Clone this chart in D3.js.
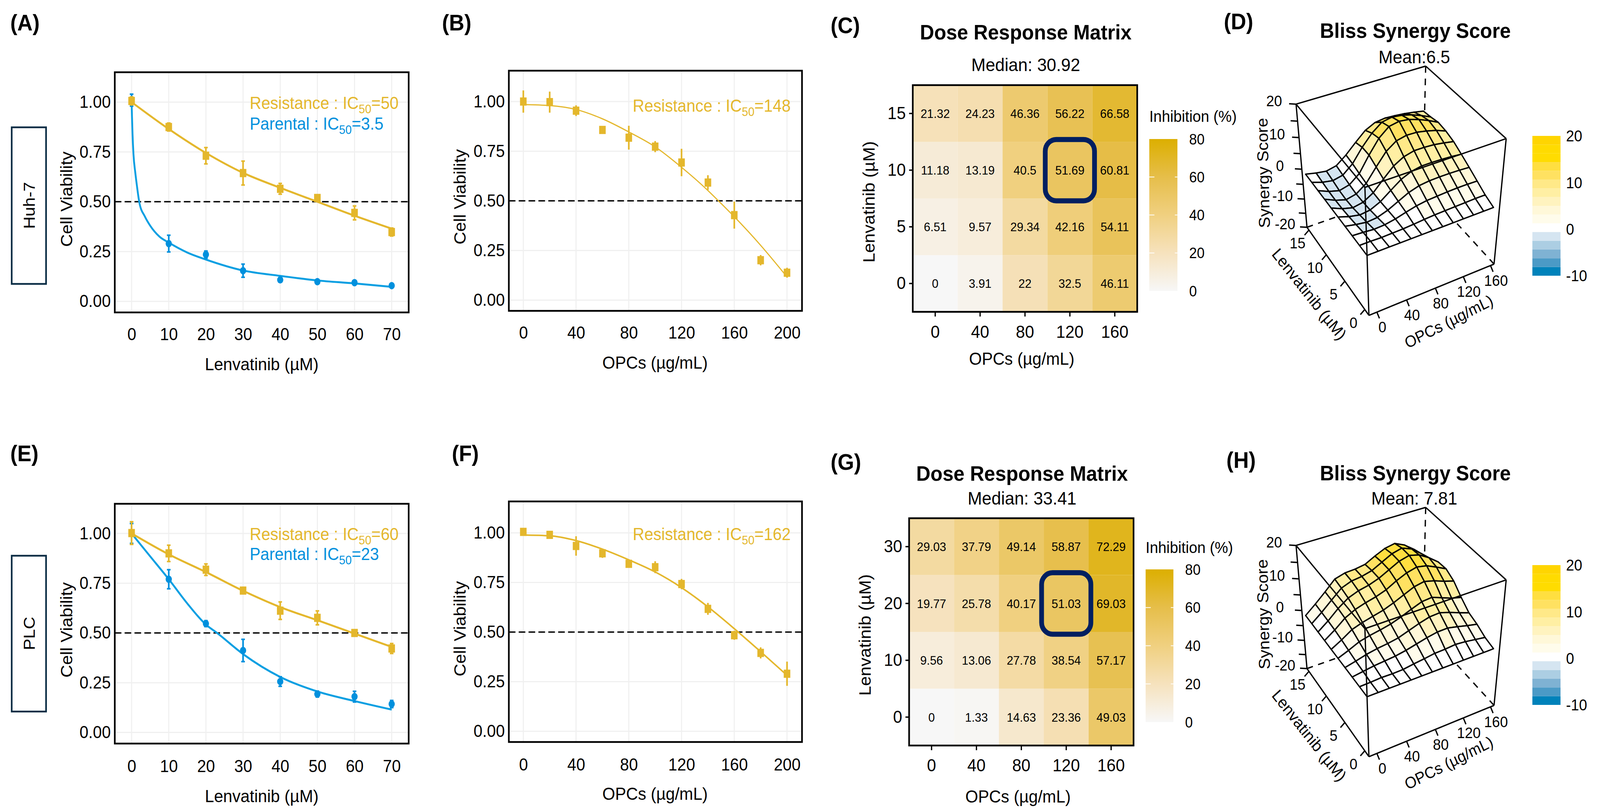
<!DOCTYPE html>
<html>
<head>
<meta charset="utf-8">
<script src="https://cdn.jsdelivr.net/npm/d3@7"></script>
<style>
  html, body { margin: 0; padding: 0; background: #fff; overflow: hidden; }
  text { font-family: "Liberation Sans", Arial, sans-serif; }
</style>
</head>
<body>
<div id="chart"></div>
<script>
// ---- data ----
const lenvDoses = [0, 10, 20, 30, 40, 50, 60, 70];
const opcDoses = [0, 20, 40, 60, 80, 100, 120, 140, 160, 180, 200];

// (A) Huh-7 lenvatinib
const aResMean = [1.006, 0.875, 0.731, 0.644, 0.565, 0.519, 0.444, 0.348];
const aResErr = [0.02, 0.02, 0.041, 0.06, 0.027, 0.012, 0.035, 0.02];
const aParMean = [1.01, 0.29, 0.235, 0.154, 0.108, 0.099, 0.094, 0.079];
const aParErr = [0.03, 0.042, 0.018, 0.033, 0.006, 0.006, 0.006, 0.005];
const aResFitX = [0, 10, 20, 30, 40, 50, 60, 70];
const aResFitY = [1.0, 0.865, 0.745, 0.645, 0.57, 0.5, 0.43, 0.365];
const aParFitX = [0, 0.1, 0.25, 0.5, 1, 1.4, 2.1, 3.6, 5, 7.5, 10, 15, 20, 30, 40, 50, 60, 70];
const aParFitY = [1.0, 0.93, 0.84, 0.74, 0.645, 0.585, 0.495, 0.425, 0.38, 0.325, 0.295, 0.245, 0.21, 0.155, 0.128, 0.105, 0.09, 0.073];

// (B) Huh-7 OPCs
const bResMean = [1.0, 0.997, 0.954, 0.857, 0.818, 0.773, 0.693, 0.592, 0.428, 0.201, 0.138];
const bResErr = [0.056, 0.053, 0.027, 0, 0.06, 0.028, 0.069, 0.037, 0.068, 0.026, 0.025];
const bFitX = [0, 20, 40, 60, 80, 100, 120, 140, 148, 160, 180, 200];
const bFitY = [0.985, 0.98, 0.96, 0.913, 0.847, 0.772, 0.669, 0.552, 0.5, 0.42, 0.276, 0.117];

// (E) PLC lenvatinib
const eResMean = [1.002, 0.9, 0.818, 0.713, 0.612, 0.576, 0.5, 0.422];
const eResErr = [0.057, 0.041, 0.029, 0.01, 0.044, 0.035, 0.008, 0.025];
const eParMean = [1.0, 0.77, 0.547, 0.412, 0.256, 0.193, 0.18, 0.143];
const eParErr = [0.05, 0.048, 0.015, 0.056, 0.024, 0.015, 0.027, 0.018];
const eResFitX = [0, 10, 20, 30, 40, 50, 60, 70];
const eResFitY = [1.0, 0.895, 0.806, 0.712, 0.63, 0.564, 0.497, 0.43];
const eParFitX = [0, 5, 10, 15, 20, 23, 30, 40, 50, 60, 70];
const eParFitY = [1.0, 0.885, 0.77, 0.648, 0.542, 0.5, 0.394, 0.279, 0.206, 0.158, 0.115];

// (F) PLC OPCs
const fResMean = [1.005, 0.99, 0.934, 0.897, 0.844, 0.827, 0.742, 0.617, 0.484, 0.395, 0.29];
const fResErr = [0.004, 0.01, 0.049, 0.023, 0.02, 0.03, 0.026, 0.03, 0.023, 0.028, 0.061];
const fFitX = [0, 20, 40, 60, 80, 100, 120, 140, 160, 180, 199];
const fFitY = [0.989, 0.985, 0.961, 0.918, 0.864, 0.803, 0.724, 0.627, 0.517, 0.401, 0.288];

// dose response matrices, first row is lenvatinib 0
const heatOpc = [0, 40, 80, 120, 160];
const heatLenvC = [0, 5, 10, 15];
const heatLenvG = [0, 10, 20, 30];
const heatC = [
  [0, 3.91, 22, 32.5, 46.11],
  [6.51, 9.57, 29.34, 42.16, 54.11],
  [11.18, 13.19, 40.5, 51.69, 60.81],
  [21.32, 24.23, 46.36, 56.22, 66.58]
];
const heatG = [
  [0, 1.33, 14.63, 23.36, 49.03],
  [9.56, 13.06, 27.78, 38.54, 57.17],
  [19.77, 25.78, 40.17, 51.03, 69.03],
  [29.03, 37.79, 49.14, 58.87, 72.29]
];

// synergy surfaces, rows lenvatinib low to high, columns OPCs low to high
const gridOpc = [0, 13.3, 26.7, 40, 53.3, 66.7, 80, 93.3, 106.7, 120, 133.3, 146.7, 160];
const gridLenv = [0, 1.67, 3.33, 5, 6.67, 8.33, 10, 11.67, 13.33, 15];
const synergyD = [
  [0, 0, 0, 0, 0, 0, 0, 0, 0, 0, 0, 0, 0],
  [0, 0, -0.1, 0, 0.1, 0.3, 0.6, 0.8, 0.9, 1, 1.1, 1.2, 1.2],
  [0, -0.2, -0.5, -0.3, 0.3, 1.2, 2, 2.5, 2.7, 2.9, 3, 3, 2.9],
  [0, -0.7, -1.2, -0.9, 0.2, 1.8, 3.4, 4.4, 4.8, 4.9, 4.9, 4.8, 4.6],
  [0, -1.1, -1.8, -1.4, 0.1, 2.5, 4.8, 6.2, 6.8, 6.8, 6.7, 6.5, 6.2],
  [0, -1.4, -2.3, -1.7, 0.2, 3.4, 6.4, 8.2, 9, 9, 8.8, 8.3, 7.7],
  [0, -1.5, -2.5, -1.8, 0.5, 4.6, 8.4, 10.6, 11.3, 11.2, 10.6, 9.8, 8.6],
  [0, -1.4, -2.3, -1.5, 1, 5.8, 10, 12.6, 13.2, 12.8, 11.8, 10.5, 9],
  [0, -1.1, -1.7, -1, 1.6, 5.8, 9.2, 11.6, 12.2, 11.8, 11, 9.8, 8.4],
  [0, -0.7, -1.2, -0.5, 1.9, 4.9, 7.7, 9.2, 9.6, 9.4, 9.1, 8.6, 8]
];
const synergyH = [
  [0, 0, 0, 0, 0, 0, 0, 0, 0, 0, 0, 0, 0],
  [0, 0.1, 0.3, 0.2, 0.3, 0.8, 1.2, 1.7, 1.8, 2.1, 1.8, 1.3, 0.8],
  [0, 0.5, 1, 1.3, 1.6, 2.2, 3, 3.8, 4.4, 4.5, 3.8, 3, 2.3],
  [0, 0.8, 1.7, 2.3, 2.7, 3.3, 4.4, 5.5, 6.4, 6.6, 5.6, 4.4, 3.3],
  [0, 1.3, 2.8, 3.6, 4.2, 4.9, 6, 7.3, 8.5, 8.8, 7.6, 6.4, 5.6],
  [0, 1.8, 3.9, 5, 5.8, 6.6, 7.8, 9.2, 10.6, 11.2, 10.4, 9.2, 8.3],
  [0, 2.2, 4.8, 6.4, 7.4, 8.2, 9.3, 11, 12.4, 13.2, 12.6, 11.2, 9.7],
  [0, 2.4, 5.2, 7.4, 8.6, 9.3, 10.4, 12, 13.6, 14.4, 13.6, 11.8, 9.5],
  [0, 2.5, 5.3, 8, 9.2, 9.6, 10.4, 12, 13.6, 14.4, 13.2, 10.8, 8],
  [0, 2.6, 5.4, 8.4, 9.3, 9.5, 10, 11.6, 13, 13.6, 12.2, 9.9, 7]
];

// tick labels
const lenvTicks = [0, 10, 20, 30, 40, 50, 60, 70];
const opcTicks = [0, 40, 80, 120, 160, 200];
const viabTicks = [0, 0.25, 0.5, 0.75, 1];
const heatLegendTicks = [0, 20, 40, 60, 80];
const surfOpcTicks = [0, 40, 80, 120, 160];
const surfLenvTicks = [0, 5, 10, 15];
const surfZTicks = [-20, -15, -10, -5, 0, 5, 10, 15, 20];
const surfZLabels = [-20, -10, 0, 10, 20];
const synergyLegendTicks = [-10, 0, 10, 20];

// colours
const GOLD = "#E4B72C", BLUE = "#0A9FE2", BLUE_DOT = "#0090DD", NAVY = "#001F60", BOX = "#0B2D45";
const synergyColors = ["#0082BA", "#4B9AC6", "#7FB2D3", "#ACCEE3", "#D5E5F1", "#FFFFFF",
  "#FFFCEB", "#FFF8D9", "#FFF3BF", "#FFEFA3", "#FFE988", "#FFE161", "#FFDF40", "#FFDC00", "#FFDB00", "#FFD500"];

// layout is in figure pixels, the viewBox fits it to whatever the window really is
const width = 4377, height = 2069;
const svg = d3.select("#chart").append("svg")
  .attr("width", window.innerWidth).attr("height", window.innerHeight)
  .attr("viewBox", `0 0 ${width} ${height}`)
  .attr("preserveAspectRatio", "none")
  .style("display", "block");

// panel letters
const panelLabels = [
  ["(A)", 28, 57], ["(B)", 1209, 57], ["(C)", 2272, 64], ["(D)", 3348, 54],
  ["(E)", 28, 1160], ["(F)", 1236, 1160], ["(G)", 2272, 1182], ["(H)", 3355, 1177]
];
svg.selectAll(".panel-label").data(panelLabels).enter().append("text")
  .attr("class", "panel-label")
  .attr("x", d => d[1]).attr("y", d => d[2])
  .attr("dy", "0.36em").style("font-size", "58px").style("font-weight", "bold")
  .text(d => d[0]);

// cell line boxes
[["Huh-7", 326, 727, 526], ["PLC", 1423, 1822, 1622]].forEach(([name, y0, y1, yc]) => {
  svg.append("rect").attr("x", 32).attr("y", y0).attr("width", 94).attr("height", y1 - y0)
    .attr("fill", "#fff").attr("stroke", BOX).attr("stroke-width", 4.5);
  svg.append("text").attr("transform", `translate(79,${yc}) rotate(-90)`)
    .attr("text-anchor", "middle").attr("dy", "0.36em").style("font-size", "44px").text(name);
});

// one viability panel: grid, axes, fitted curves, mean and error marks
function drawViability(p) {
  const g = svg.append("g");
  const x = d3.scaleLinear().domain(p.xDomain).range(p.xRange);
  const y = d3.scaleLinear().domain([0, 1]).range(p.yRange);
  const [fx0, fy0, fx1, fy1] = p.frame;

  g.selectAll(".gx").data(p.xTicks).enter().append("line")
    .attr("x1", d => x(d)).attr("x2", d => x(d)).attr("y1", fy0).attr("y2", fy1)
    .attr("stroke", "#F0F0F0").attr("stroke-width", 3);
  g.selectAll(".gy").data(viabTicks).enter().append("line")
    .attr("y1", d => y(d)).attr("y2", d => y(d)).attr("x1", fx0).attr("x2", fx1)
    .attr("stroke", "#F0F0F0").attr("stroke-width", 3);

  const axX = g.append("g").attr("transform", `translate(0,${fy1})`)
    .call(d3.axisBottom(x).tickValues(p.xTicks).tickSize(0).tickPadding(p.xPad).tickFormat(d3.format("d")));
  const axY = g.append("g").attr("transform", `translate(${fx0},0)`)
    .call(d3.axisLeft(y).tickValues(viabTicks).tickSize(0).tickPadding(11).tickFormat(d3.format(".2f")));
  [axX, axY].forEach(a => {
    a.select(".domain").remove();
    a.selectAll("text").style("font-size", "44px").attr("fill", "#000")
      .style("font-family", '"Liberation Sans", Arial, sans-serif');
  });

  g.append("line").attr("x1", fx0).attr("x2", fx1).attr("y1", y(0.5)).attr("y2", y(0.5))
    .attr("stroke", "#000").attr("stroke-width", 3.5).attr("stroke-dasharray", "18 9");

  p.series.forEach(s => {
    const line = d3.line().x(d => x(d[0])).y(d => y(d[1])).curve(d3.curveMonotoneX);
    g.append("path").datum(d3.zip(s.fitX, s.fitY)).attr("d", line)
      .attr("fill", "none").attr("stroke", s.lineColor).attr("stroke-width", p.lineWidth);
    const pts = d3.zip(s.doses, s.mean, s.err);
    g.selectAll(".err").data(pts).enter().append("line")
      .attr("x1", d => x(d[0])).attr("x2", d => x(d[0]))
      .attr("y1", d => y(d[1] - d[2])).attr("y2", d => y(d[1] + d[2]))
      .attr("stroke", s.color).attr("stroke-width", 4.5);
    if (p.caps) {
      [-1, 1].forEach(sign => {
        g.selectAll(".cap").data(pts).enter().append("line")
          .attr("x1", d => x(d[0]) - 5).attr("x2", d => x(d[0]) + 5)
          .attr("y1", d => y(d[1] + sign * d[2])).attr("y2", d => y(d[1] + sign * d[2]))
          .attr("stroke", s.color).attr("stroke-width", 4);
      });
    }
    if (s.marker === "square") {
      g.selectAll(".pt").data(pts).enter().append("rect")
        .attr("x", d => x(d[0]) - 9).attr("y", d => y(d[1]) - 10.5)
        .attr("width", 18).attr("height", 21).attr("fill", s.color);
    } else {
      g.selectAll(".pt").data(pts).enter().append("ellipse")
        .attr("cx", d => x(d[0])).attr("cy", d => y(d[1]))
        .attr("rx", 8.5).attr("ry", 9.5).attr("fill", s.color);
    }
  });

  g.append("rect").attr("x", fx0).attr("y", fy0).attr("width", fx1 - fx0).attr("height", fy1 - fy0)
    .attr("fill", "none").attr("stroke", "#000").attr("stroke-width", 4.5);

  p.notes.forEach(n => {
    const t = g.append("text").attr("x", n.x).attr("y", n.y).attr("dy", "0.36em")
      .attr("fill", n.color).style("font-size", "44px");
    t.append("tspan").text(n.label + " : IC");
    t.append("tspan").attr("dy", 11).style("font-size", "31px").text("50");
    t.append("tspan").attr("dy", -11).text("=" + n.ic50);
  });

  g.append("text").attr("x", p.xTitle[0]).attr("y", p.xTitle[1]).attr("text-anchor", "middle")
    .attr("dy", "0.36em").style("font-size", "45px").text(p.xLabel);
  g.append("text").attr("transform", `translate(${p.yTitle[0]},${p.yTitle[1]}) rotate(-90)`)
    .attr("text-anchor", "middle").attr("dy", "0.36em").style("font-size", "45px").text("Cell Viability");
}

const panelXA = { xDomain: [0, 70], xRange: [360, 1071.5], xTicks: lenvTicks, xLabel: "Lenvatinib (µM)", lineWidth: 5, caps: true };
const panelXB = { xDomain: [0, 200], xRange: [1431.6, 2153], xTicks: opcTicks, xLabel: "OPCs (µg/mL)", caps: false };

drawViability({
  ...panelXA, frame: [314, 185, 1118, 800], yRange: [771.7, 261.5], xPad: 40,
  xTitle: [716, 932], yTitle: [182, 510],
  series: [
    { doses: lenvDoses, mean: aParMean, err: aParErr, fitX: aParFitX, fitY: aParFitY, color: BLUE_DOT, lineColor: BLUE, marker: "circle" },
    { doses: lenvDoses, mean: aResMean, err: aResErr, fitX: aResFitX, fitY: aResFitY, color: GOLD, lineColor: GOLD, marker: "square" }
  ],
  notes: [
    { x: 683, y: 263, color: GOLD, label: "Resistance", ic50: "50" },
    { x: 683, y: 316, color: BLUE_DOT, label: "Parental", ic50: "3.5" }
  ]
});
drawViability({
  ...panelXB, frame: [1392, 181, 2194, 796], yRange: [768.5, 260], xPad: 40, lineWidth: 3,
  xTitle: [1792, 928], yTitle: [1258, 504],
  series: [{ doses: opcDoses, mean: bResMean, err: bResErr, fitX: bFitX, fitY: bFitY, color: GOLD, lineColor: GOLD, marker: "square" }],
  notes: [{ x: 1731, y: 270, color: GOLD, label: "Resistance", ic50: "148" }]
});
drawViability({
  ...panelXA, frame: [314, 1290, 1118, 1904], yRange: [1875.6, 1366], xPad: 42,
  xTitle: [716, 2038], yTitle: [182, 1613],
  series: [
    { doses: lenvDoses, mean: eParMean, err: eParErr, fitX: eParFitX, fitY: eParFitY, color: BLUE_DOT, lineColor: BLUE, marker: "circle" },
    { doses: lenvDoses, mean: eResMean, err: eResErr, fitX: eResFitX, fitY: eResFitY, color: GOLD, lineColor: GOLD, marker: "square" }
  ],
  notes: [
    { x: 683, y: 1367, color: GOLD, label: "Resistance", ic50: "60" },
    { x: 683, y: 1418, color: BLUE_DOT, label: "Parental", ic50: "23" }
  ]
});
drawViability({
  ...panelXB, frame: [1392, 1284, 2194, 1900], yRange: [1872.5, 1364.5], xPad: 42, lineWidth: 4,
  xTitle: [1792, 2032], yTitle: [1258, 1610],
  series: [{ doses: opcDoses, mean: fResMean, err: fResErr, fitX: fFitX, fitY: fFitY, color: GOLD, lineColor: GOLD, marker: "square" }],
  notes: [{ x: 1731, y: 1367, color: GOLD, label: "Resistance", ic50: "162" }]
});

// dose response matrix
const heatColor = d3.scaleLinear().domain([0, 20, 40, 60, 80])
  .range(["#F7F7F7", "#F6E2BD", "#F0D080", "#E6BE4A", "#DCAF00"]);

function drawHeat(p) {
  const g = svg.append("g");
  const [fx0, fy0, fx1, fy1] = p.frame;
  const x = d3.scaleBand().domain(heatOpc).range([fx0, fx1]);
  const y = d3.scaleBand().domain(p.rows).range([fy1, fy0]);
  const cells = p.values.flatMap((row, i) => row.map((v, j) => ({ lenv: p.rows[i], opc: heatOpc[j], v })));

  g.selectAll(".cell").data(cells).enter().append("rect")
    .attr("x", d => x(d.opc)).attr("y", d => y(d.lenv))
    .attr("width", x.bandwidth()).attr("height", y.bandwidth())
    .attr("fill", d => heatColor(d.v));
  g.selectAll(".val").data(cells).enter().append("text")
    .attr("x", d => x(d.opc) + x.bandwidth() / 2).attr("y", d => y(d.lenv) + y.bandwidth() / 2)
    .attr("text-anchor", "middle").attr("dy", "0.36em").style("font-size", "32px").text(d => d.v);

  g.append("rect").attr("x", fx0).attr("y", fy0).attr("width", fx1 - fx0).attr("height", fy1 - fy0)
    .attr("fill", "none").attr("stroke", "#000").attr("stroke-width", 4.5);

  // highlighted combination
  const hx = x(120), hy = y(p.rows[2]);
  g.append("rect").attr("x", hx - 6).attr("y", hy - 6)
    .attr("width", x.bandwidth() + 12).attr("height", y.bandwidth() + 12)
    .attr("rx", 30).attr("fill", "none").attr("stroke", NAVY).attr("stroke-width", 13);

  const axX = g.append("g").attr("transform", `translate(0,${fy1})`)
    .call(d3.axisBottom(x).tickSize(12).tickPadding(p.xPad));
  const axY = g.append("g").attr("transform", `translate(${fx0},0)`)
    .call(d3.axisLeft(y).tickSize(10).tickPadding(9));
  [axX, axY].forEach(a => {
    a.select(".domain").remove();
    a.selectAll("line").attr("stroke", "#000").attr("stroke-width", 3.5);
    a.selectAll("text").style("font-size", "45px").attr("fill", "#000")
      .style("font-family", '"Liberation Sans", Arial, sans-serif');
  });

  const cx = p.titleX;
  g.append("text").attr("x", cx).attr("y", p.titleY).attr("text-anchor", "middle").attr("dy", "0.36em")
    .style("font-size", "54px").style("font-weight", "bold").text("Dose Response Matrix");
  g.append("text").attr("x", cx).attr("y", p.subY).attr("text-anchor", "middle").attr("dy", "0.36em")
    .style("font-size", "47px").text(p.sub);
  g.append("text").attr("x", p.xTitle[0]).attr("y", p.xTitle[1]).attr("text-anchor", "middle").attr("dy", "0.36em")
    .style("font-size", "45px").text("OPCs (µg/mL)");
  g.append("text").attr("transform", `translate(${p.yTitle[0]},${p.yTitle[1]}) rotate(-90)`)
    .attr("text-anchor", "middle").attr("dy", "0.36em").style("font-size", "45px").text("Lenvatinib (µM)");

  // colour bar
  const [lx, ly0, lw, ly1] = p.legend;
  const ly = d3.scaleLinear().domain([0, 80]).range([ly1, ly0]);
  const grad = svg.append("defs").append("linearGradient").attr("id", p.id)
    .attr("x1", 0).attr("x2", 0).attr("y1", 1).attr("y2", 0);
  heatColor.domain().forEach(d => grad.append("stop").attr("offset", d / 80).attr("stop-color", heatColor(d)));
  g.append("rect").attr("x", lx).attr("y", ly0).attr("width", lw).attr("height", ly1 - ly0).attr("fill", `url(#${p.id})`);
  heatLegendTicks.filter(d => d > 0 && d < 80).forEach(d => {
    [[lx, lx + 14], [lx + lw - 7, lx + lw]].forEach(([a, b]) => {
      g.append("line").attr("x1", a).attr("x2", b).attr("y1", ly(d)).attr("y2", ly(d))
        .attr("stroke", "#fff").attr("stroke-width", 2);
    });
  });
  g.selectAll(".lt").data(heatLegendTicks).enter().append("text")
    .attr("x", lx + lw + 32).attr("y", d => ly(d)).attr("dy", "0.36em")
    .style("font-size", "38px").text(d => d);
  g.append("text").attr("x", lx).attr("y", p.legendTitleY).attr("dy", "0.36em")
    .style("font-size", "41px").text("Inhibition (%)");
}

drawHeat({
  id: "heatC", rows: heatLenvC, values: heatC, frame: [2497, 218, 3111, 798.5], xPad: 23,
  titleX: 2806, titleY: 82, subY: 165, sub: "Median: 30.92",
  xTitle: [2795, 918], yTitle: [2376, 517],
  legend: [3144, 356, 77, 745], legendTitleY: 297
});
drawHeat({
  id: "heatG", rows: heatLenvG, values: heatG, frame: [2487, 1327, 3101, 1909], xPad: 22,
  titleX: 2796, titleY: 1212, subY: 1275, sub: "Median: 33.41",
  xTitle: [2785, 2039], yTitle: [2366, 1626],
  legend: [3134, 1458, 76, 1849], legendTitleY: 1401
});

// 3D surface: a small perspective camera, same idea as R persp
const camera = { theta: 29, phi: 38.8, dist: 11.7, zStretch: 1.083, sx: 199, sy: 188, cx: 3825 };

function makeProjector(cy) {
  const t = camera.theta * Math.PI / 180, f = camera.phi * Math.PI / 180;
  return (u, v, z) => {
    const zz = z * camera.zStretch;
    const xc = u * Math.cos(t) - v * Math.sin(t);
    const fh = u * Math.sin(t) + v * Math.cos(t);
    const yc = fh * Math.sin(f) + zz * Math.cos(f);
    const k = camera.dist / (camera.dist + fh * Math.cos(f) - zz * Math.sin(f));
    return [camera.cx + camera.sx * xc * k, cy - camera.sy * yc * k];
  };
}

function drawSurface(p) {
  const g = svg.append("g");
  const proj = makeProjector(p.cy);
  const dy = p.cy - 478;
  const zN = d3.scaleLinear().domain([-20, 20]).range([-1, 1]);
  // the surface stops a little short of the far box walls
  const uSurf = d3.scaleLinear().domain([0, 160]).range([-1, 0.9]);
  const vSurf = d3.scaleLinear().domain([0, 15]).range([-1, 0.87]);
  const uTick = d3.scaleLinear().domain([0, 160]).range([-0.88, 0.94]);
  const vTick = d3.scaleLinear().domain([0, 15]).range([-0.88, 0.93]);

  const edge = (a, b, dash) => g.append("line")
    .attr("x1", a[0]).attr("y1", a[1]).attr("x2", b[0]).attr("y2", b[1])
    .attr("stroke", "#000").attr("stroke-width", 3.5)
    .attr("stroke-dasharray", dash ? "17 15" : null);

  const O = proj(-1, -1, -1), X = proj(1, -1, -1), Y = proj(-1, 1, -1), B = proj(1, 1, -1);
  const Z = proj(-1, -1, 1), R = proj(1, -1, 1), L = proj(-1, 1, 1), T = proj(1, 1, 1);

  [[T, B], [Y, B], [X, B]].forEach(([a, b]) => edge(a, b, true));
  [[L, T], [T, R], [L, Y], [R, X], [O, X], [O, Y]].forEach(([a, b]) => edge(a, b, false));

  // z axis on the left wall
  surfZTicks.forEach(d => {
    const a = proj(-1, 1, zN(d));
    edge(a, [a[0] - 19, a[1] - 1], false);
  });
  g.selectAll(".zl").data(surfZLabels).enter().append("text")
    .attr("x", d => proj(-1, 1, zN(d))[0] - 60).attr("y", d => proj(-1, 1, zN(d))[1] - 9)
    .attr("text-anchor", "middle").attr("dy", "0.36em").style("font-size", "39px").text(d => d);

  surfOpcTicks.forEach(d => {
    const a = proj(uTick(d), -1, -1);
    edge(a, [a[0] + 7, a[1] + 16], false);
    g.append("text").attr("x", a[0] + 15).attr("y", a[1] + 38).attr("text-anchor", "middle")
      .attr("dy", "0.36em").style("font-size", "39px").text(d);
  });
  surfLenvTicks.forEach(d => {
    const a = proj(-1, vTick(d), -1);
    edge(a, [a[0] - 12, a[1] + 13], false);
    g.append("text").attr("x", a[0] - 31).attr("y", a[1] + 33).attr("text-anchor", "middle")
      .attr("dy", "0.36em").style("font-size", "39px").text(d);
  });

  // surface cells, painted back to front
  const color = d3.scaleThreshold().domain(d3.range(1, 16).map(i => -10 + i * 1.875)).range(synergyColors);
  const pt = (j, i) => proj(uSurf(gridOpc[j]), vSurf(gridLenv[i]), zN(p.values[i][j]));
  const cells = [];
  for (let i = 0; i < gridLenv.length - 1; i++) {
    for (let j = 0; j < gridOpc.length - 1; j++) {
      const corners = [[j, i], [j + 1, i], [j + 1, i + 1], [j, i + 1]];
      cells.push({
        path: corners.map(c => pt(c[0], c[1])),
        mean: d3.mean(corners, c => p.values[c[1]][c[0]]),
        depth: uSurf(gridOpc[j]) * 0.485 + vSurf(gridLenv[i]) * 0.875
      });
    }
  }
  cells.sort((a, b) => d3.descending(a.depth, b.depth));
  const line = d3.line();
  g.selectAll(".surf").data(cells).enter().append("path")
    .attr("d", d => line(d.path) + "Z")
    .attr("fill", d => color(d.mean))
    .attr("stroke", "#000").attr("stroke-width", 3.5).attr("stroke-linejoin", "round");

  // front edges go over the surface
  [[Z, O], [Z, L], [Z, R]].forEach(([a, b]) => edge(a, b, false));

  g.append("text").attr("x", 3872).attr("y", p.titleY).attr("text-anchor", "middle").attr("dy", "0.36em")
    .style("font-size", "54px").style("font-weight", "bold").text("Bliss Synergy Score");
  g.append("text").attr("x", 3869).attr("y", p.subY).attr("text-anchor", "middle").attr("dy", "0.36em")
    .style("font-size", "47px").text(p.sub);

  g.append("text").attr("transform", `translate(3455,${443 + dy}) rotate(-91.4)`).attr("text-anchor", "middle")
    .attr("dy", "0.36em").style("font-size", "43px").text("Synergy Score");
  g.append("text").attr("transform", `translate(3582,${753 + dy}) rotate(50)`).attr("text-anchor", "middle")
    .attr("dy", "0.36em").style("font-size", "42px").text("Lenvatinib (µM)");
  g.append("text").attr("transform", `translate(3963,${823 + dy}) rotate(-25.6)`).attr("text-anchor", "middle")
    .attr("dy", "0.36em").style("font-size", "41px").text("OPCs (µg/mL)");

  // stepped colour bar
  const [lx, ly0, lw, ly1] = p.legend;
  const ly = d3.scaleLinear().domain([-10, 20]).range([ly1, ly0]);
  const bins = synergyColors.map((c, i) => ({ c, lo: -10 + i * 1.875, hi: -10 + (i + 1) * 1.875 }));
  g.selectAll(".bin").data(bins).enter().append("rect")
    .attr("x", lx).attr("width", lw).attr("y", d => ly(d.hi)).attr("height", d => ly(d.lo) - ly(d.hi))
    .attr("fill", d => d.c);
  g.selectAll(".lt").data(synergyLegendTicks).enter().append("text")
    .attr("x", lx + lw + 15).attr("y", d => ly(d)).attr("dy", "0.36em")
    .style("font-size", "40px").text(d => d);
}

drawSurface({ values: synergyD, cy: 478, titleY: 78, subY: 145, sub: "Mean:6.5", legend: [4192, 348, 77, 706] });
drawSurface({ values: synergyH, cy: 1608, titleY: 1211, subY: 1275, sub: "Mean: 7.81", legend: [4192, 1447, 77, 1805] });
</script>
</body>
</html>
